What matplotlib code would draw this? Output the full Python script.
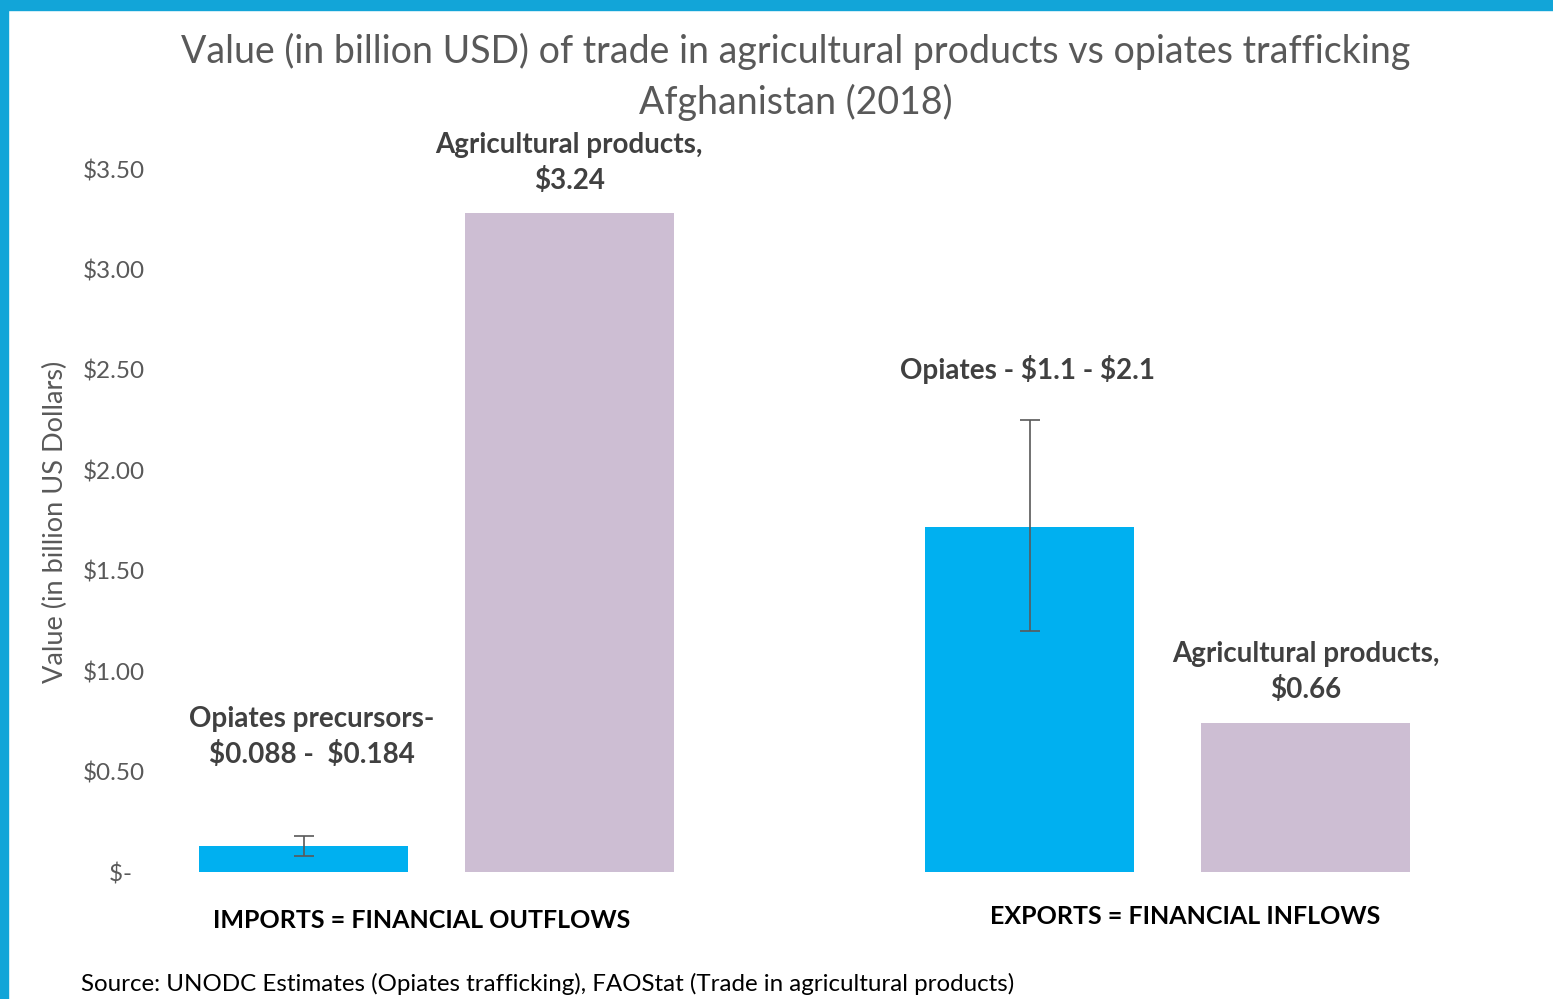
import numpy as np
import matplotlib.pyplot as plt
from matplotlib.patches import Rectangle

plt.rcParams['font.family'] = ['Lato', 'DejaVu Sans']

# данные (млрд USD)
bar_names = ['Opiates precursors', 'Agricultural products (imports)',
             'Opiates', 'Agricultural products (exports)']
bar_values = [0.13, 3.28, 1.72, 0.74]
err_low = [0.08, None, 1.20, None]
err_high = [0.18, None, 2.25, None]
bar_colors = ['#00B0F0', '#CDBED3', '#00B0F0', '#CDBED3']
bar_labels = ['Opiates precursors-\n\\$0.088 -  \\$0.184', 'Agricultural products,\n\\$3.24',
              'Opiates - \\$1.1 - \\$2.1', 'Agricultural products,\n\\$0.66']
group_labels = ['IMPORTS = FINANCIAL OUTFLOWS', 'EXPORTS = FINANCIAL INFLOWS']
yticks = [0, 0.5, 1.0, 1.5, 2.0, 2.5, 3.0, 3.5]
ytick_labels = ['\\$-  ', '\\$0.50', '\\$1.00', '\\$1.50', '\\$2.00', '\\$2.50', '\\$3.00', '\\$3.50']

positions = [0, 0.99, 2.71, 3.74]
W, H = 1553, 999

fig = plt.figure(figsize=(W / 100, H / 100), dpi=100)
ax = fig.add_axes([160 / W, (H - 872) / H, 1320 / W, 703 / H])

ax.bar(positions, bar_values, width=0.78, color=bar_colors)

# усы погрешностей
for x, v, lo, hi in zip(positions, bar_values, err_low, err_high):
    if lo is not None:
        ax.errorbar(x, v, yerr=[[v - lo], [hi - v]], fmt='none',
                    ecolor='#595959', elinewidth=1.2, capsize=7, capthick=1.2)

ax.set_ylim(0, 3.5)
ax.set_xlim(-0.537, 4.39)
ax.set_yticks(yticks)
ax.set_yticklabels(ytick_labels, fontsize=17.5, color='#595959')
ax.tick_params(axis='y', length=0, pad=11)
ax.set_xticks([])
for s in ax.spines.values():
    s.set_visible(False)

# подписи над столбиками
label_y = [0.672, 3.53, 2.50, 0.996]
label_dx = [0.03, 0, -0.01, 0]
for x, dx, ly, txt in zip(positions, label_dx, label_y, bar_labels):
    ax.text(x + dx, ly, txt, ha='center', va='center', fontsize=20,
            fontweight='bold', color='#404040', linespacing=1.4, clip_on=False)

fig.text(422 / W, 1 - 920 / H, group_labels[0], ha='center', va='center',
         fontsize=18, fontweight='bold', color='black')
fig.text(1185 / W, 1 - 916 / H, group_labels[1], ha='center', va='center',
         fontsize=18, fontweight='bold', color='black')

fig.text(796 / W, 1 - 77 / H,
         'Value (in billion USD) of trade in agricultural products vs opiates trafficking\nAfghanistan (2018)',
         ha='center', va='center', fontsize=27, color='#595959', linespacing=1.48)

fig.text(55 / W, 1 - 522 / H, 'Value (in billion US Dollars)', rotation=90,
         ha='center', va='center', fontsize=19.5, color='#595959')

fig.text(81 / W, 1 - 984 / H,
         'Source: UNODC Estimates (Opiates trafficking), FAOStat (Trade in agricultural products)',
         ha='left', va='center', fontsize=17.4, color='black')

# голубая рамка сверху и слева
fig.patches.append(Rectangle((0, 1 - 10 / H), 1, 10 / H, transform=fig.transFigure,
                             color='#12A5D8', zorder=10))
fig.patches.append(Rectangle((0, 0), 8 / W, 1, transform=fig.transFigure,
                             color='#12A5D8', zorder=10))

fig.savefig('out.png', dpi=100)
